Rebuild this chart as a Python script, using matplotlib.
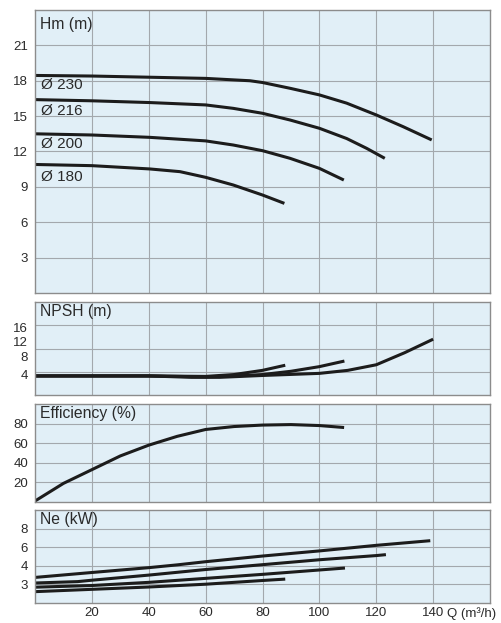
import matplotlib
matplotlib.use("Agg")
import matplotlib.pyplot as plt

plt.rcParams["font.family"] = ["Liberation Sans", "DejaVu Sans"]

# ---- data ----
q_ticks = [20, 40, 60, 80, 100, 120, 140]

# head curves Hm (m)
h_labels = ["Ø 230", "Ø 216", "Ø 200", "Ø 180"]
h_label_y = [17.6, 15.4, 12.6, 9.8]
q_h230 = [0, 20, 40, 60, 75.6, 80, 89.7, 100, 109.6, 120, 129.5, 139.5]
h_230 = [18.45, 18.4, 18.3, 18.2, 18.0, 17.85, 17.36, 16.8, 16.1, 15.1, 14.1, 12.98]
q_h216 = [0, 20, 40.4, 60, 69.7, 80, 89.7, 100, 109.6, 116.6, 123]
h_216 = [16.4, 16.3, 16.15, 15.95, 15.66, 15.24, 14.67, 13.97, 13.1, 12.27, 11.42]
q_h200 = [0, 20, 40.4, 60, 69.7, 80, 89.7, 100, 108.6]
h_200 = [13.5, 13.4, 13.2, 12.9, 12.55, 12.07, 11.42, 10.57, 9.58]
q_h180 = [0, 20, 40.4, 51, 60, 69.7, 80, 87.7]
h_180 = [10.9, 10.8, 10.52, 10.29, 9.81, 9.16, 8.31, 7.6]
h_ticks = [3, 6, 9, 12, 15, 18, 21]

# NPSH (m)
q_n180 = [0, 20, 40, 60, 70, 80, 88]
n_180 = [4.1, 4.1, 4.1, 4.0, 4.4, 5.3, 6.4]
q_n200 = [0, 20, 40, 60, 70, 80, 90, 100, 108.8]
n_200 = [4.1, 4.1, 4.1, 3.9, 4.1, 4.4, 5.1, 6.1, 7.3]
q_n230 = [0, 20, 40, 55, 65, 80, 100, 110, 120, 130, 140]
n_230 = [4.1, 4.1, 4.1, 3.8, 3.8, 4.2, 4.65, 5.3, 6.5, 9.1, 12.0]
npsh_tick_labels = ["4", "8", "12", "16"]

# Efficiency (%)
q_eff = [0, 5, 10, 20, 30, 40, 50, 60, 70, 80, 90, 100, 108.7]
eff = [1, 10, 19, 33, 47, 58, 67, 74, 77, 78.5, 79, 78, 76]
eff_ticks = [20, 40, 60, 80]

# Ne (kW)
q_p230 = [0, 20, 40, 50, 60, 80, 100, 120, 139]
p_230 = [2.75, 3.28, 3.8, 4.1, 4.44, 5.05, 5.6, 6.2, 6.7]
q_p216 = [0, 15, 20, 40, 60, 80, 100, 120, 123.4]
p_216 = [2.15, 2.3, 2.45, 3.0, 3.6, 4.12, 4.65, 5.1, 5.2]
q_p200 = [0, 20, 40, 60, 80, 100, 109]
p_200 = [1.7, 1.88, 2.22, 2.65, 3.08, 3.55, 3.76]
q_p180 = [0, 20, 40, 60, 80, 88]
p_180 = [1.22, 1.47, 1.72, 2.02, 2.42, 2.57]
ne_tick_labels = ["3", "4", "6", "8"]

# ---- style ----
BG = "#e1eff7"
GRID = "#a3a8ad"
SPINE = "#8c8c8c"
TXT = "#2a2a2a"
LINE = "#1c1c1c"
LW = 2.2

fig = plt.figure(figsize=(5.02, 6.23), dpi=100)

# panel rectangles in pixels: (top, bottom)
W, H = 502, 623
left_px, right_px = 35, 490
panels_px = [(10, 293), (302, 395), (404, 502), (510, 603)]


def make_ax(top, bottom):
    ax = fig.add_axes([left_px / W, 1 - bottom / H,
                       (right_px - left_px) / W, (bottom - top) / H])
    ax.set_facecolor(BG)
    ax.set_xlim(0, 160)
    ax.set_xticks(q_ticks)
    ax.grid(True, color=GRID, lw=0.8)
    ax.set_axisbelow(True)
    for s in ax.spines.values():
        s.set_color(SPINE)
        s.set_linewidth(1.0)
    ax.tick_params(length=0, labelsize=9.5, colors=TXT, pad=5)
    ax.tick_params(axis="x", labelbottom=False)
    return ax


def title(ax, s):
    ax.text(0.012, 0.975, s, transform=ax.transAxes, ha="left", va="top",
            fontsize=11.3, color=TXT)


# Hm panel
ax1 = make_ax(*panels_px[0])
ax1.set_ylim(0, 24)
ax1.set_yticks(h_ticks)
for q, h in [(q_h230, h_230), (q_h216, h_216), (q_h200, h_200), (q_h180, h_180)]:
    ax1.plot(q, h, color=LINE, lw=LW, solid_capstyle="butt")
for lab, y in zip(h_labels, h_label_y):
    ax1.text(2.0, y, lab, ha="left", va="center", fontsize=11, color=TXT)
title(ax1, "Hm (m)")

# NPSH panel (grid rows and labels are not aligned in the original)
ax2 = make_ax(*panels_px[1])
ax2.set_ylim(0, 20)
ax2.set_yticks([5, 10, 15])
ax2.set_yticklabels([])
ax2.set_yticks([4.5, 8.2, 11.4, 14.6], minor=True)
ax2.set_yticklabels(npsh_tick_labels, minor=True)
ax2.tick_params(which="minor", length=0, labelsize=9.5, colors=TXT, pad=5)
for q, n in [(q_n180, n_180), (q_n200, n_200), (q_n230, n_230)]:
    ax2.plot(q, n, color=LINE, lw=LW, solid_capstyle="butt")
title(ax2, "NPSH (m)")

# Efficiency panel
ax3 = make_ax(*panels_px[2])
ax3.set_ylim(0, 100)
ax3.set_yticks(eff_ticks)
ax3.plot(q_eff, eff, color=LINE, lw=LW, solid_capstyle="butt")
title(ax3, "Efficiency (%)")

# Ne panel
ax4 = make_ax(*panels_px[3])
ax4.set_ylim(0, 10)
ax4.set_yticks([2, 4, 6, 8])
ax4.set_yticklabels(ne_tick_labels)
for q, p in [(q_p230, p_230), (q_p216, p_216), (q_p200, p_200), (q_p180, p_180)]:
    ax4.plot(q, p, color=LINE, lw=LW, solid_capstyle="butt")
title(ax4, "Ne (kW)")
ax4.tick_params(axis="x", labelbottom=True, pad=3)
ax4.annotate("Q (m³/h)", xy=(140, 0), xycoords=("data", "axes fraction"),
             xytext=(10, -3), textcoords="offset points", ha="left", va="top",
             fontsize=9.5, color=TXT)

fig.savefig("out.png", dpi=100)
